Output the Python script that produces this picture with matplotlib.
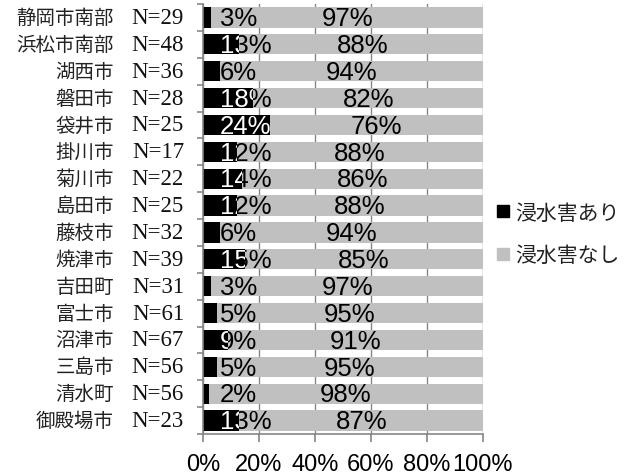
import matplotlib
matplotlib.use('Agg')
import matplotlib.pyplot as plt
from matplotlib.lines import Line2D
from matplotlib.transforms import Bbox, TransformedBbox

plt.rcParams['font.family'] = ['Liberation Sans', 'Noto Sans CJK JP', 'DejaVu Sans']

# 地域別の浸水害の有無 (%)
areas = ['静岡市南部', '浜松市南部', '湖西市', '磐田市', '袋井市', '掛川市', '菊川市', '島田市',
         '藤枝市', '焼津市', '吉田町', '富士市', '沼津市', '三島市', '清水町', '御殿場市']
counts = [29, 48, 36, 28, 25, 17, 22, 25, 32, 39, 31, 61, 67, 56, 56, 23]
damaged = [3, 13, 6, 18, 24, 12, 14, 12, 6, 15, 3, 5, 9, 5, 2, 13]
undamaged = [97, 88, 94, 82, 76, 88, 86, 88, 94, 85, 97, 95, 91, 95, 98, 87]
series_names = ['浸水害あり', '浸水害なし']

BLACK = '#000000'
GRAY = '#c0c0c0'
AXIS = '#868686'
BAR_H = 0.75

fig = plt.figure(figsize=(6.25, 4.77), dpi=100)
ax = fig.add_axes([203 / 625, 1 - 435 / 477, 280 / 625, 430 / 477])

y = list(range(len(areas)))
ax.barh(y, damaged, height=BAR_H, color=BLACK, zorder=2)
ax.barh(y, undamaged, left=damaged, height=BAR_H, color=GRAY, zorder=2)

ax.set_xlim(0, 100)
ax.set_ylim(len(areas) - 0.5, -0.5)

# grid & spines
ax.set_xticks(range(0, 101, 20))
ax.set_xticklabels([f'{v}%' for v in range(0, 101, 20)], fontsize=17)
ax.grid(axis='x', color=AXIS, linewidth=1, zorder=0)
ax.set_axisbelow(True)
for s in ['top', 'right']:
    ax.spines[s].set_visible(False)
for s in ['left', 'bottom']:
    ax.spines[s].set_color(AXIS)
    ax.spines[s].set_linewidth(1.2)
ax.tick_params(axis='x', direction='out', length=6, color=AXIS, width=1.2, pad=8)
ax.set_yticks([i - 0.5 for i in range(len(areas) + 1)])
ax.set_yticklabels([])
ax.tick_params(axis='y', direction='out', length=4, color=AXIS, width=1.2)

# category labels: area name + sample size
trans = ax.get_yaxis_transform()
for i, (name, n) in enumerate(zip(areas, counts)):
    ax.text((114 - 203) / 280, i, name, transform=trans, ha='right', va='center',
            fontsize=14, family='Noto Sans CJK JP', color='#222222')
    ax.text((184 - 203) / 280, i, f'N={n}', transform=trans, ha='right', va='center',
            fontsize=16.5, family='Liberation Serif', color='#111111')

# value labels (white where they sit on the black bar)
for i in range(len(areas)):
    a, b = damaged[i], undamaged[i]
    ax.text(6.0, i + 0.03, f'{a}%', ha='left', va='center', fontsize=18.5,
            color='black', zorder=3)
    t = ax.text(6.0, i + 0.03, f'{a}%', ha='left', va='center', fontsize=18.5,
                color='white', zorder=4)
    box = Bbox.from_extents(0, i - BAR_H / 2, a, i + BAR_H / 2)
    t.set_clip_box(TransformedBbox(box, ax.transData))
    t.set_clip_on(True)
    ax.text(a + b / 2, i + 0.03, f'{b}%', ha='center', va='center', fontsize=18.5,
            color='black', zorder=3)

handles = [Line2D([], [], marker='s', linestyle='none', markersize=8, color=BLACK),
           Line2D([], [], marker='s', linestyle='none', markersize=8, color=GRAY)]
fig.legend(handles, series_names, loc='center left',
           bbox_to_anchor=(478 / 625, 1 - 235 / 477), frameon=False,
           prop={'family': 'Noto Sans CJK JP', 'size': 15}, labelspacing=1.0,
           handlelength=0.6, handletextpad=0.3, labelcolor='#222222')

fig.savefig('out.png', dpi=100)
